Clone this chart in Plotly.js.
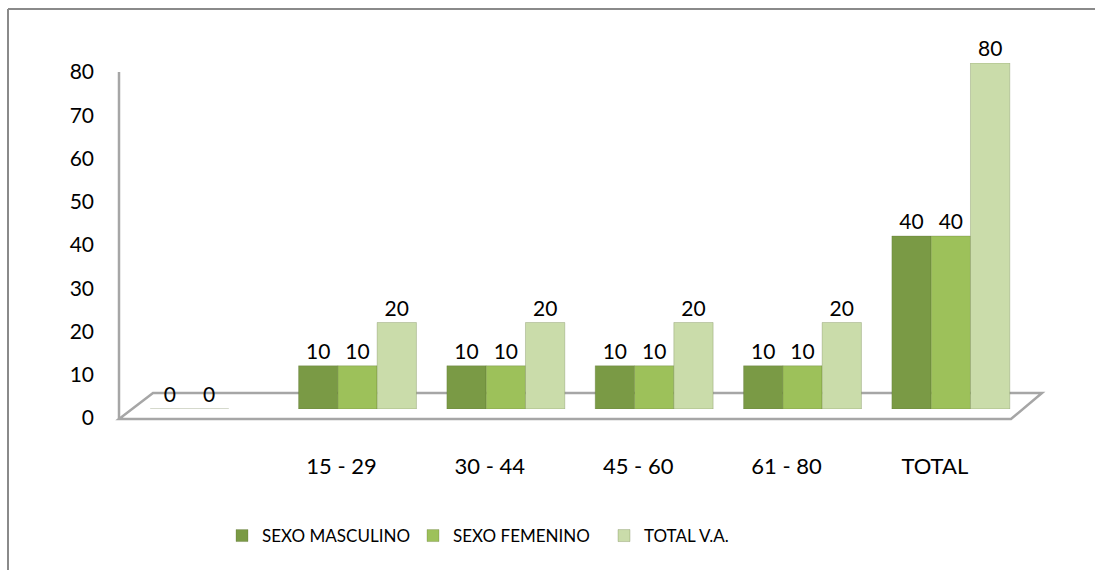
<!DOCTYPE html>
<html>
<head>
<meta charset="utf-8">
<script src="https://cdn.plot.ly/plotly-3.0.1.min.js"></script>
<style>
html,body{margin:0;padding:0;background:#fff;}
#chart{width:1095px;height:570px;}
</style>
</head>
<body>
<div id="chart"></div>
<script>
// Data
var categories = ["", "15 - 29", "30 - 44", "45 - 60", "61 - 80", "TOTAL"];
var sexoMasculino = [0, 10, 10, 10, 10, 40];
var sexoFemenino = [0, 10, 10, 10, 10, 40];
var totalVA = [null, 20, 20, 20, 20, 80];
var seriesNames = ["SEXO MASCULINO", "SEXO FEMENINO", "TOTAL V.A."];
var seriesColors = ["#7A9A45", "#9DC15A", "#CADCAA"];
var yTicks = [0, 10, 20, 30, 40, 50, 60, 70, 80];

var W = 1095, H = 570;
var L = 135, R = 1025, T = 63, B = 409;
function px(x){ return (x - L) / (R - L); }
function py(y){ return (B - y) / (B - T); }

var font = "Lato, 'Open Sans', 'Noto Sans', sans-serif";
var seriesData = [sexoMasculino, sexoFemenino, totalVA];
var traces = seriesData.map(function(vals, i){
  return {
    type: 'bar',
    name: seriesNames[i],
    x: categories.map(function(c, k){ return k; }),
    y: vals,
    text: vals.map(function(v){ return v === null ? '' : String(v); }),
    textposition: 'outside',
    cliponaxis: false,
    textfont: {family: font, size: 21, color: '#000'},
    marker: {color: seriesColors[i], line: {color: 'rgba(80,100,40,0.25)', width: 1}},
    hoverinfo: 'x+y+name'
  };
});

var lineStyle = {color: '#A6A6A6', width: 2.5};
var borderStyle = {color: '#8A8A8A', width: 2};
var shapes = [
  // outer chart border (top and left only visible)
  {type: 'line', xref: 'paper', yref: 'paper', x0: px(8), x1: px(1100), y0: py(9), y1: py(9), line: borderStyle},
  {type: 'line', xref: 'paper', yref: 'paper', x0: px(8), x1: px(8), y0: py(9), y1: py(580), line: borderStyle},
  // vertical wall line
  {type: 'line', xref: 'paper', yref: 'paper', x0: px(119), x1: px(119), y0: py(419), y1: py(72), line: lineStyle},
  // floor
  {type: 'path', xref: 'paper', yref: 'paper',
   path: 'M ' + px(119) + ',' + py(419) + ' L ' + px(1011) + ',' + py(419) + ' L ' + px(1042) + ',' + py(393) + ' L ' + px(153) + ',' + py(393) + ' Z',
   line: lineStyle, layer: 'below'}
];

var layout = {
  width: W, height: H,
  margin: {l: L, r: W - R, t: T, b: H - B},
  paper_bgcolor: '#fff', plot_bgcolor: '#fff',
  barmode: 'group',
  bargap: 0.205,
  bargroupgap: 0,
  showlegend: true,
  legend: {orientation: 'h', xref: 'container', yref: 'container', x: 222/W, y: 1 - 518/H, xanchor: 'left', yanchor: 'top',
           font: {family: font, size: 17, color: '#000'}, itemwidth: 30, entrywidth: 146, traceorder: 'normal'},
  xaxis: {
    range: [-0.5, 5.5],
    tickmode: 'array',
    tickvals: categories.map(function(c, k){ return k; }),
    ticktext: categories,
    showgrid: false, zeroline: false, showline: false, ticks: '',
    ticklabelstandoff: 42,
    ticklabelshift: -16,
    tickfont: {family: font, size: 22, color: '#000'},
    fixedrange: true
  },
  yaxis: {
    range: [0, 80],
    tickmode: 'array',
    tickvals: yTicks,
    showgrid: false, zeroline: false, showline: false, ticks: '',
    ticklabelstandoff: 40,
    ticklabelshift: 9,
    tickfont: {family: font, size: 21, color: '#000'},
    fixedrange: true
  },
  shapes: shapes
};

Plotly.newPlot('chart', traces, layout, {displayModeBar: false, staticPlot: true});
</script>
</body>
</html>
